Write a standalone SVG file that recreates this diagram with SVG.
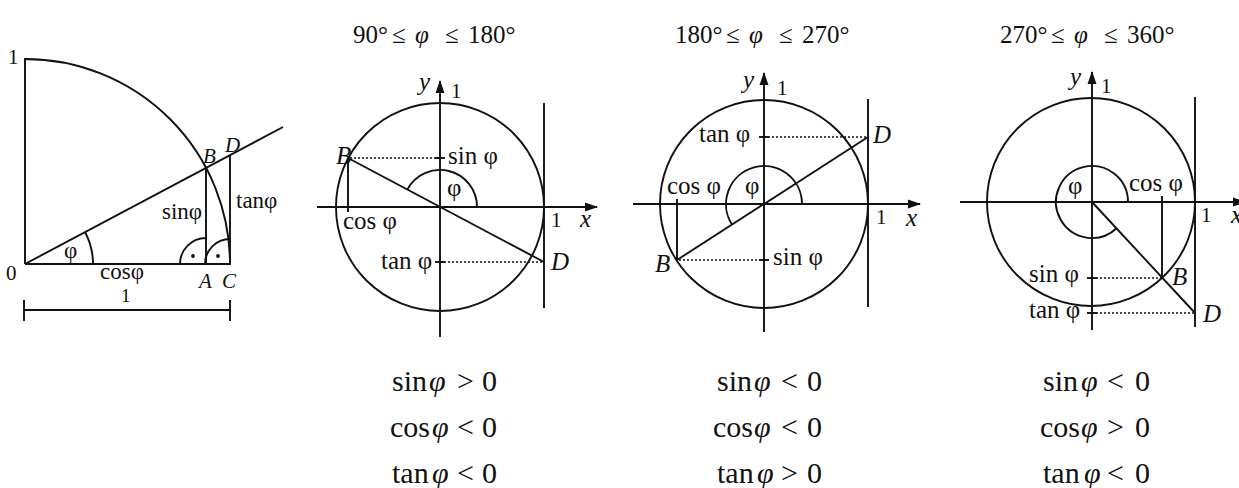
<svg xmlns="http://www.w3.org/2000/svg" width="1239" height="488" viewBox="0 0 1239 488">
<style>
.ln{stroke:#111;stroke-width:1.9;fill:none}
.dot{stroke:#111;stroke-width:1.5;stroke-dasharray:2 2;fill:none}
text{font-family:"Liberation Serif","Times New Roman",serif;fill:#111}
.lb{font-size:25px}
.ql{font-size:23px}
.sm{font-size:21px}
.it{font-style:italic}
.ti{font-size:25px}
.bt{font-size:30px}
</style>
<defs>
<marker id="arr" markerUnits="userSpaceOnUse" markerWidth="14" markerHeight="10" refX="12" refY="5" orient="auto">
<path d="M0,0.5 L13,5 L0,9.5 z" fill="#111"/>
</marker>
</defs>
<rect width="1239" height="488" fill="#fff"/>

<g id="quarter">
<path class="ln" d="M25,264 V59 A205,205 0 0 1 230,264 H25"/>
<line class="ln" x1="25" y1="264" x2="283" y2="127"/>
<line class="ln" x1="206" y1="168" x2="206" y2="264"/>
<line class="ln" x1="230" y1="155" x2="230" y2="264"/>
<path class="ln" d="M93,264 A68,68 0 0 0 85,232"/>
<path class="ln" d="M180,264 A26,26 0 0 1 206,238"/>
<path class="ln" d="M205,264 A25,25 0 0 1 230,239"/>
<circle cx="193" cy="256" r="1.9" fill="#111"/>
<circle cx="218" cy="256" r="1.9" fill="#111"/>
<line class="ln" x1="24" y1="310" x2="230" y2="310"/>
<line class="ln" x1="24" y1="300" x2="24" y2="321"/>
<line class="ln" x1="230" y1="300" x2="230" y2="321"/>
<text class="sm" x="8" y="64">1</text>
<text class="sm" x="6" y="280">0</text>
<text class="ql" x="64" y="258">φ</text>
<text class="ql" x="100" y="279">cosφ</text>
<text class="ql" x="162" y="219">sinφ</text>
<text class="ql" x="236" y="208">tanφ</text>
<text x="121" y="302" style="font-size:19px">1</text>
<text class="sm it" x="199" y="288">A</text>
<text class="sm it" x="222" y="288">C</text>
<text class="sm it" x="203" y="163">B</text>
<text class="sm it" x="225" y="152">D</text>
</g>

<g id="panel2">
<text class="ti" y="43"><tspan x="353">90°</tspan><tspan x="392">≤</tspan><tspan x="415" class="it">φ</tspan><tspan x="445">≤</tspan><tspan x="468">180°</tspan></text>
<circle class="ln" cx="440" cy="207" r="104"/>
<line class="ln" x1="317" y1="207" x2="597" y2="207" marker-end="url(#arr)"/>
<line class="ln" x1="440" y1="337" x2="440" y2="81" marker-end="url(#arr)"/>
<line class="ln" x1="544" y1="103" x2="544" y2="308"/>
<line class="ln" x1="348" y1="158" x2="544" y2="262"/>
<line class="ln" x1="348" y1="158" x2="348" y2="212"/>
<line class="dot" x1="350" y1="158" x2="440" y2="158"/>
<line class="dot" x1="440" y1="262" x2="544" y2="262"/>
<line class="ln" x1="435" y1="158" x2="445" y2="158"/>
<line class="ln" x1="435" y1="262" x2="445" y2="262"/>
<path class="ln" d="M477,207 A37,37 0 0 0 407.3,189.6"/>
<text class="lb it" x="419" y="90">y</text>
<text class="sm" x="451" y="98">1</text>
<text class="lb" x="448" y="164">sin φ</text>
<text class="lb it" x="336" y="164">B</text>
<text class="lb" x="447" y="196">φ</text>
<text class="lb" x="343" y="229">cos φ</text>
<text class="sm" x="551" y="227">1</text>
<text class="lb it" x="580" y="227">x</text>
<text class="lb" x="381" y="269">tan φ</text>
<text class="lb it" x="551" y="270">D</text>
<text class="bt" y="391"><tspan x="392">sin</tspan><tspan x="429" class="it">φ</tspan><tspan x="457">&gt;</tspan><tspan x="482">0</tspan></text>
<text class="bt" y="437"><tspan x="390">cos</tspan><tspan x="432" class="it">φ</tspan><tspan x="457">&lt;</tspan><tspan x="482">0</tspan></text>
<text class="bt" y="483"><tspan x="392">tan</tspan><tspan x="432" class="it">φ</tspan><tspan x="457">&lt;</tspan><tspan x="482">0</tspan></text>
</g>

<g id="panel3">
<text class="ti" y="43"><tspan x="675">180°</tspan><tspan x="726">≤</tspan><tspan x="749" class="it">φ</tspan><tspan x="779">≤</tspan><tspan x="802">270°</tspan></text>
<circle class="ln" cx="764" cy="204" r="104"/>
<line class="ln" x1="633" y1="204" x2="920" y2="204" marker-end="url(#arr)"/>
<line class="ln" x1="764" y1="332" x2="764" y2="73" marker-end="url(#arr)"/>
<line class="ln" x1="868" y1="99" x2="868" y2="307"/>
<line class="ln" x1="677" y1="260" x2="868" y2="137"/>
<line class="ln" x1="677" y1="260" x2="677" y2="199"/>
<line class="dot" x1="679" y1="260" x2="764" y2="260"/>
<line class="dot" x1="764" y1="137" x2="868" y2="137"/>
<line class="ln" x1="759" y1="260" x2="769" y2="260"/>
<line class="ln" x1="759" y1="137" x2="769" y2="137"/>
<path class="ln" d="M802,204 A38,38 0 1 0 732.1,224.7"/>
<text class="lb it" x="743" y="88">y</text>
<text class="sm" x="777" y="95">1</text>
<text class="lb" x="699" y="142">tan φ</text>
<text class="lb it" x="873" y="143">D</text>
<text class="lb" x="667" y="194">cos φ</text>
<text class="lb" x="745" y="194">φ</text>
<text class="sm" x="876" y="224">1</text>
<text class="lb it" x="906" y="226">x</text>
<text class="lb it" x="655" y="272">B</text>
<text class="lb" x="773" y="265">sin φ</text>
<text class="bt" y="391"><tspan x="717">sin</tspan><tspan x="754" class="it">φ</tspan><tspan x="781">&lt;</tspan><tspan x="807">0</tspan></text>
<text class="bt" y="437"><tspan x="713">cos</tspan><tspan x="754" class="it">φ</tspan><tspan x="781">&lt;</tspan><tspan x="807">0</tspan></text>
<text class="bt" y="483"><tspan x="717">tan</tspan><tspan x="757" class="it">φ</tspan><tspan x="781">&gt;</tspan><tspan x="807">0</tspan></text>
</g>

<g id="panel4">
<text class="ti" y="43"><tspan x="1000">270°</tspan><tspan x="1051">≤</tspan><tspan x="1074" class="it">φ</tspan><tspan x="1104">≤</tspan><tspan x="1127">360°</tspan></text>
<circle class="ln" cx="1091" cy="202" r="104"/>
<line class="ln" x1="960" y1="202" x2="1245" y2="202" marker-end="url(#arr)"/>
<line class="ln" x1="1092" y1="330" x2="1092" y2="72" marker-end="url(#arr)"/>
<line class="ln" x1="1195" y1="97" x2="1195" y2="327"/>
<line class="ln" x1="1092" y1="202" x2="1195" y2="313"/>
<line class="ln" x1="1162" y1="278" x2="1162" y2="196"/>
<line class="dot" x1="1092" y1="278" x2="1162" y2="278"/>
<line class="dot" x1="1092" y1="313" x2="1195" y2="313"/>
<line class="ln" x1="1087" y1="278" x2="1097" y2="278"/>
<line class="ln" x1="1087" y1="313" x2="1097" y2="313"/>
<path class="ln" d="M1128,202 A36,36 0 1 0 1116.6,228.3"/>
<text class="lb it" x="1070" y="85">y</text>
<text class="sm" x="1101" y="93">1</text>
<text class="lb" x="1068" y="194">φ</text>
<text class="lb" x="1129" y="191">cos φ</text>
<text class="sm" x="1201" y="222">1</text>
<text class="lb it" x="1231" y="223">x</text>
<text class="lb" x="1029" y="282">sin φ</text>
<text class="lb it" x="1172" y="285">B</text>
<text class="lb" x="1029" y="318">tan φ</text>
<text class="lb it" x="1203" y="322">D</text>
<text class="bt" y="391"><tspan x="1043">sin</tspan><tspan x="1081" class="it">φ</tspan><tspan x="1107">&lt;</tspan><tspan x="1135">0</tspan></text>
<text class="bt" y="437"><tspan x="1040">cos</tspan><tspan x="1081" class="it">φ</tspan><tspan x="1107">&gt;</tspan><tspan x="1135">0</tspan></text>
<text class="bt" y="483"><tspan x="1043">tan</tspan><tspan x="1084" class="it">φ</tspan><tspan x="1107">&lt;</tspan><tspan x="1135">0</tspan></text>
</g>
</svg>
